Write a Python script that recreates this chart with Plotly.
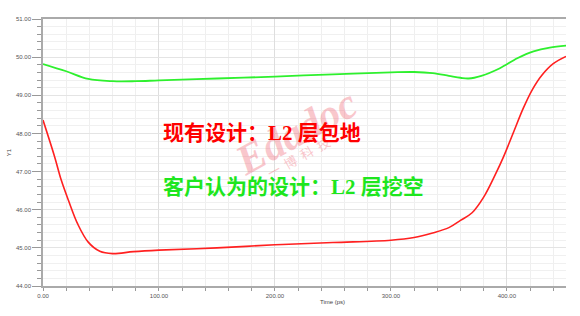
import plotly.graph_objects as go

# Data
red_t = [0, 10, 15.8, 22, 30, 39, 49, 60, 78, 100, 150, 200, 250, 300, 320, 336, 350, 360, 370, 380, 390, 397, 406, 414, 422, 430, 440, 451]
red_v = [48.35, 47.39, 46.77, 46.24, 45.62, 45.15, 44.91, 44.85, 44.90, 44.94, 45.00, 45.08, 45.14, 45.20, 45.27, 45.39, 45.53, 45.72, 45.92, 46.33, 46.92, 47.38, 48.05, 48.65, 49.15, 49.52, 49.83, 50.02]

green_t = [0, 20, 39, 60, 80, 100, 150, 200, 250, 300, 320, 336, 350, 360, 367, 378, 394, 409, 423, 437, 451]
green_v = [49.82, 49.63, 49.43, 49.37, 49.37, 49.39, 49.44, 49.49, 49.55, 49.60, 49.61, 49.58, 49.51, 49.46, 49.44, 49.51, 49.71, 49.97, 50.15, 50.25, 50.30]

x_title = "Time (ps)"
y_title = "Y1"
label_red = "现有设计：L2 层包地"
label_green = "客户认为的设计：L2 层挖空"

fig = go.Figure()
fig.add_trace(go.Scatter(x=green_t, y=green_v, mode="lines", line=dict(color="#2ef02e", width=1.8, shape="spline", smoothing=1.0), showlegend=False))
fig.add_trace(go.Scatter(x=red_t, y=red_v, mode="lines", line=dict(color="#ff2020", width=1.6, shape="spline", smoothing=1.0), showlegend=False))

tick_font = dict(family="Liberation Sans", size=6, color="#555")
fig.update_xaxes(range=[0, 451], tickvals=[0, 100, 200, 300, 400], tickformat=".2f",
                 ticks="outside", ticklen=3, tickcolor="#999", tickfont=tick_font,
                 showline=True, linecolor="#aaa", linewidth=1.5, mirror=True,
                 showgrid=True, gridcolor="#dedede", gridwidth=1, zeroline=False,
                 minor=dict(dtick=20, tick0=0, ticks="outside", ticklen=3, tickcolor="#999", showgrid=True, gridcolor="#efefef"))
fig.update_yaxes(range=[44, 51], dtick=1, tick0=44, tickformat=".2f",
                 ticks="outside", ticklen=9, tickcolor="#999", tickfont=tick_font,
                 showline=True, linecolor="#aaa", linewidth=1.5,
                 showgrid=True, gridcolor="#e4e4e4", gridwidth=1, zeroline=False,
                 minor=dict(dtick=0.2, tick0=44, ticks="outside", ticklen=4, tickcolor="#999", showgrid=True, gridcolor="#f0f0f0"))

fig.add_annotation(text=x_title, xref="paper", yref="paper", x=(332 - 43) / 523, y=-0.04, yanchor="top",
                   showarrow=False, font=dict(family="Liberation Sans", size=6, color="#444"))
fig.add_annotation(text=y_title, xref="paper", yref="paper", x=-0.075, y=0.5, textangle=-90,
                   showarrow=False, font=dict(family="Liberation Sans", size=6, color="#444"))

# watermark
fig.add_annotation(text="<b><i>Edadoc</i></b>", xref="paper", yref="paper", x=(296 - 43) / 523, y=(286 - 132) / 267,
                   textangle=-29, showarrow=False, opacity=0.35,
                   font=dict(family="Liberation Serif", size=42, color="#f06070"))
fig.add_annotation(text="一  博  科  技", xref="paper", yref="paper", x=(298 - 43) / 523, y=(286 - 158) / 267,
                   textangle=-29, showarrow=False, opacity=0.35,
                   font=dict(family="Noto Sans CJK SC", size=13, color="#f06070"))

fig.add_annotation(text="<b>" + label_red + "</b>", xref="paper", yref="paper", x=(161 - 43) / 523, xanchor="left",
                   y=(286 - 133) / 267, showarrow=False,
                   font=dict(family="Liberation Serif, Noto Sans CJK SC", size=21, color="#ff0000"))
fig.add_annotation(text="<b>" + label_green + "</b>", xref="paper", yref="paper", x=(161 - 43) / 523, xanchor="left",
                   y=(286 - 187) / 267, showarrow=False,
                   font=dict(family="Liberation Serif, Noto Sans CJK SC", size=21, color="#1ee61e"))

fig.update_layout(width=580, height=316, margin=dict(l=43, r=14, t=19, b=30),
                  paper_bgcolor="white", plot_bgcolor="white")
fig.write_html("out.html")
